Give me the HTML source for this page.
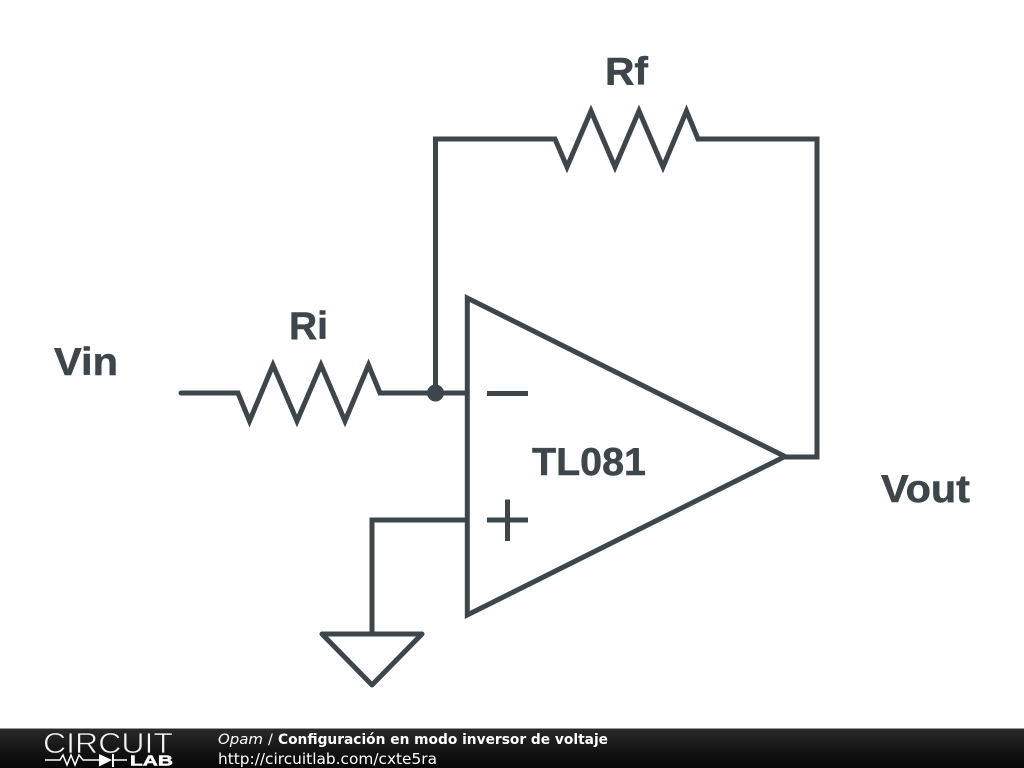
<!DOCTYPE html>
<html><head><meta charset="utf-8"><style>
html,body{margin:0;padding:0;background:#fff;width:1024px;height:768px;overflow:hidden}
svg{display:block}
</style></head><body>
<svg width="1024" height="768" viewBox="0 0 1024 768" xmlns="http://www.w3.org/2000/svg">
<defs><linearGradient id="g" x1="0" y1="0" x2="0" y2="1"><stop offset="0" stop-color="#2a2a2a"/><stop offset="0.5" stop-color="#161616"/><stop offset="1" stop-color="#060606"/></linearGradient></defs>
<rect width="1024" height="768" fill="#fff"/>
<g fill="none" stroke="#3c464b" stroke-width="5" stroke-linejoin="miter" stroke-linecap="butt">
<path d="M181 393H238L249.500 421L273 365L297 421L321 365L345 421L368.500 365L380 393H467" stroke-linecap="round"/>
<path d="M435.500 393V139H555L567 167L591 111L615 167L639 111L663 167L686.500 111L698 139H817V457H785"/>
<path d="M467.300 298V615L785 456.500Z"/>
<path d="M487 393.500H528M487 520H528M507.500 499.500V541"/>
<path d="M467 520H372V634"/>
<path d="M322 634H422L372 685Z" stroke-linejoin="round"/>
</g>
<circle cx="435.500" cy="393" r="8.500" fill="#3c464b"/>
<g font-family="'Liberation Sans',sans-serif" font-weight="700" font-size="39" fill="#3c464b" stroke="#3c464b" stroke-width=".5">
<text x="605" y="84.500" textLength="43" lengthAdjust="spacingAndGlyphs">Rf</text>
<text x="289" y="339" textLength="39" lengthAdjust="spacingAndGlyphs">Ri</text>
<text x="54" y="375" textLength="64" lengthAdjust="spacingAndGlyphs">Vin</text>
<text x="532" y="475" textLength="114" lengthAdjust="spacingAndGlyphs">TL081</text>
<text x="881" y="502" textLength="89" lengthAdjust="spacingAndGlyphs">Vout</text>
</g>
<rect y="728" width="1024" height="1" fill="#999"/>
<rect y="729" width="1024" height="39" fill="url(#g)"/>
<text x="43" y="753" font-family="'Liberation Sans',sans-serif" font-size="29" fill="#f4f4f4" stroke="#1c1c1c" stroke-width=".7" paint-order="normal" textLength="130" lengthAdjust="spacingAndGlyphs">CIRCUIT</text>
<path d="M45 760H60L63 755L67 765L71 755L75 765L79 755L83 760H100M112 760H127" fill="none" stroke="#fff" stroke-width="1.500"/>
<path d="M99 754L112 760L99 766.500Z" fill="#fff"/>
<rect x="112" y="754" width="2" height="13" fill="#fff"/>
<text x="130" y="765.500" font-family="'Liberation Sans',sans-serif" font-weight="700" font-size="14.500" fill="#fff" stroke="#fff" stroke-width=".5" textLength="43" lengthAdjust="spacingAndGlyphs">LAB</text>
<g font-family="'DejaVu Sans',sans-serif" fill="#fff">
<text x="218" y="744" font-size="14.500" font-style="italic" textLength="45" lengthAdjust="spacingAndGlyphs">Opam</text>
<text x="268" y="744" font-size="14.500">/</text>
<text x="278" y="744" font-size="14" font-weight="700" textLength="330" lengthAdjust="spacingAndGlyphs">Configuración en modo inversor de voltaje</text>
<text x="218" y="764" font-size="15.500" textLength="219" lengthAdjust="spacingAndGlyphs">http://circuitlab.com/cxte5ra</text>
</g>
</svg>
</body></html>
